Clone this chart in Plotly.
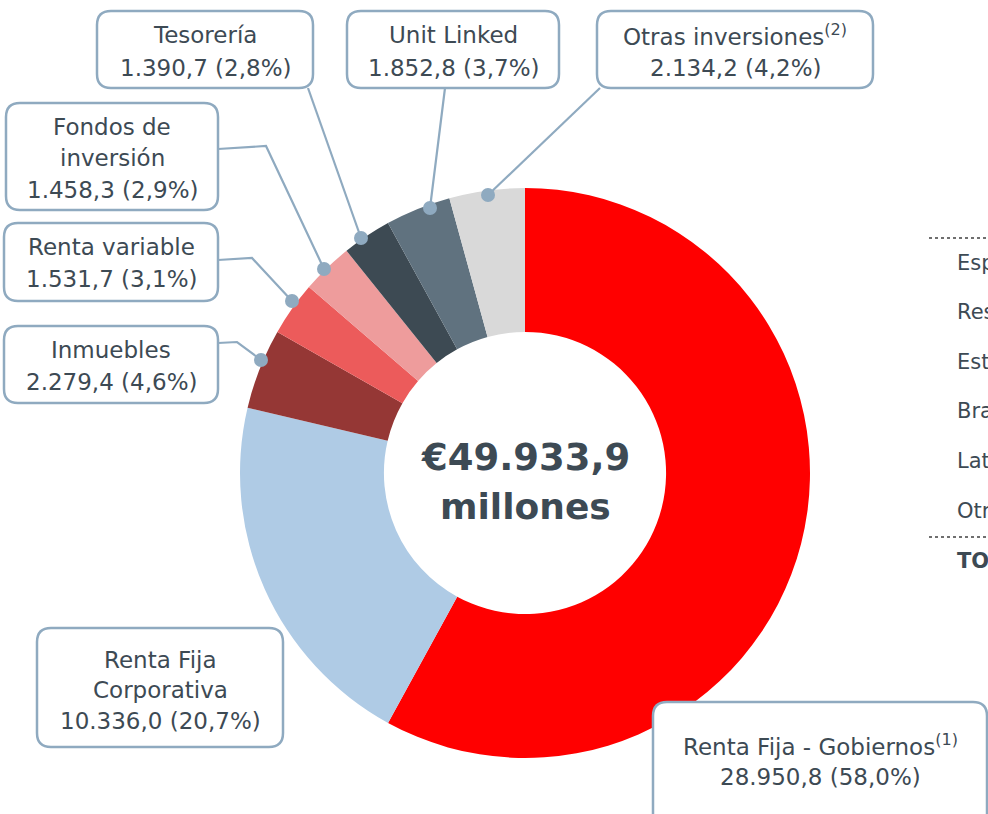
import plotly.graph_objects as go

# ---------------- data ----------------
categories = ["Renta Fija - Gobiernos", "Renta Fija Corporativa", "Inmuebles",
              "Renta variable", "Fondos de inversión", "Tesorería",
              "Unit Linked", "Otras inversiones"]
values = [28950.8, 10336.0, 2279.4, 1531.7, 1458.3, 1390.7, 1852.8, 2134.2]
value_labels = ["28.950,8", "10.336,0", "2.279,4", "1.531,7",
                "1.458,3", "1.390,7", "1.852,8", "2.134,2"]
pct_labels = ["58,0%", "20,7%", "4,6%", "3,1%", "2,9%", "2,8%", "3,7%", "4,2%"]
title_lines = [["Renta Fija - Gobiernos<sup>(1)</sup>"],
               ["Renta Fija", "Corporativa"],
               ["Inmuebles"],
               ["Renta variable"],
               ["Fondos de", "inversión"],
               ["Tesorería"],
               ["Unit Linked"],
               ["Otras inversiones<sup>(2)</sup>"]]
colors = ["#FF0000", "#AFCBE5", "#953735", "#EC5B5B",
          "#EE9C9C", "#3D4A53", "#60727F", "#D9D9D9"]
total_label = "€49.933,9"
total_unit = "millones"
table_rows = ["Esp", "Res", "Est", "Bra", "Lat", "Otr"]
table_total = "TO"

# ---------------- layout constants (pixels) ----------------
W, H = 988, 814
CX, CY, R = 525, 473, 285
HOLE = 0.495
TXT = "#3D4A54"
BORDER = "#8FAAC0"
FONT = "DejaVu Sans"
FS = 23

def px(x):
    return x / W

def py(y):
    return 1 - y / H

# box rect, line y centres, connector points (last = dot)
callouts = [
    dict(box=(653, 702, 987, 850), ys=[745, 777], conn=None),
    dict(box=(37, 628, 283, 747), ys=[660, 690, 721], conn=None),
    dict(box=(4, 326, 218, 403), ys=[350, 382], conn=[(218, 343), (237, 342), (261, 360)]),
    dict(box=(4, 223, 218, 301), ys=[247, 279], conn=[(218, 260), (252, 258), (292, 301)]),
    dict(box=(6, 103, 218, 210), ys=[127, 158, 190], conn=[(218, 149), (266, 146), (324, 269)]),
    dict(box=(97, 11, 313, 88), ys=[35, 68], conn=[(308, 88), (361, 238)]),
    dict(box=(347, 11, 559, 88), ys=[35, 68], conn=[(445, 88), (430, 208)]),
    dict(box=(597, 11, 873, 88), ys=[35, 68], conn=[(600, 88), (488, 195)]),
]

fig = go.Figure()
fig.add_trace(go.Pie(
    labels=categories, values=values, hole=HOLE, sort=False,
    direction="clockwise", rotation=0,
    marker=dict(colors=colors, line=dict(width=0)),
    textinfo="none", hoverinfo="label+value+percent", showlegend=False,
    domain=dict(x=[(CX - R) / W, (CX + R) / W],
                y=[(H - CY - R) / H, (H - CY + R) / H]),
))

shapes = []
annotations = []

def rr_path(x0, y0, x1, y1, r=14):
    pts = [
        ("M", [(x0 + r, y0)]), ("L", [(x1 - r, y0)]), ("Q", [(x1, y0), (x1, y0 + r)]),
        ("L", [(x1, y1 - r)]), ("Q", [(x1, y1), (x1 - r, y1)]),
        ("L", [(x0 + r, y1)]), ("Q", [(x0, y1), (x0, y1 - r)]),
        ("L", [(x0, y0 + r)]), ("Q", [(x0, y0), (x0 + r, y0)]),
    ]
    s = ""
    for cmd, ps in pts:
        s += cmd + " " + " ".join(f"{px(a):.5f},{py(b):.5f}" for a, b in ps) + " "
    return s + "Z"

for i, c in enumerate(callouts):
    x0, y0, x1, y1 = c["box"]
    if c["conn"]:
        pts = c["conn"]
        path = "M " + " L ".join(f"{px(a):.5f},{py(b):.5f}" for a, b in pts)
        shapes.append(dict(type="path", path=path, xref="paper", yref="paper",
                           line=dict(color=BORDER, width=2.2), layer="above"))
        dx, dy = pts[-1]
        rd = 7
        shapes.append(dict(type="circle", xref="paper", yref="paper",
                           x0=px(dx - rd), x1=px(dx + rd), y0=py(dy + rd), y1=py(dy - rd),
                           fillcolor=BORDER, line=dict(width=0), layer="above"))
    shapes.append(dict(type="path", path=rr_path(x0, y0, x1, y1), xref="paper", yref="paper",
                       fillcolor="white", line=dict(color=BORDER, width=2.5), layer="above"))
    lines = title_lines[i] + [f"{value_labels[i]} ({pct_labels[i]})"]
    xc = (x0 + x1) / 2
    for t, yc in zip(lines, c["ys"]):
        annotations.append(dict(text=t, x=px(xc), y=py(yc), xref="paper", yref="paper",
                                xanchor="center", yanchor="middle", showarrow=False,
                                font=dict(family=FONT, size=FS, color=TXT)))

# centre text
annotations.append(dict(text=f"<b>{total_label}</b>", x=px(CX), y=py(457), xref="paper", yref="paper",
                        xanchor="center", yanchor="middle", showarrow=False,
                        font=dict(family=FONT, size=37, color=TXT)))
annotations.append(dict(text=f"<b>{total_unit}</b>", x=px(CX), y=py(506), xref="paper", yref="paper",
                        xanchor="center", yanchor="middle", showarrow=False,
                        font=dict(family=FONT, size=36, color=TXT)))

# partial table on the right (cut by the picture edge)
for yl in (238, 537):
    shapes.append(dict(type="line", xref="paper", yref="paper", x0=px(929), x1=px(990),
                       y0=py(yl), y1=py(yl), line=dict(color="#6F6F6F", width=2, dash="dot")))
row_ys = [263, 312, 362, 411, 461, 511]
for t, yc in zip(table_rows, row_ys):
    annotations.append(dict(text=t, x=px(955), y=py(yc), xref="paper", yref="paper",
                            xanchor="left", yanchor="middle", showarrow=False,
                            font=dict(family=FONT, size=21, color=TXT)))
annotations.append(dict(text=f"<b>{table_total}</b>", x=px(955), y=py(561), xref="paper", yref="paper",
                        xanchor="left", yanchor="middle", showarrow=False,
                        font=dict(family=FONT, size=21, color=TXT)))

fig.update_layout(
    width=W, height=H, margin=dict(l=0, r=0, t=0, b=0),
    paper_bgcolor="white", plot_bgcolor="white",
    shapes=shapes, annotations=annotations,
    font=dict(family=FONT, color=TXT),
)

fig.write_html("out.html", config={"displayModeBar": False},
               post_script="document.body.style.margin='0px';document.body.style.overflow='hidden';")
